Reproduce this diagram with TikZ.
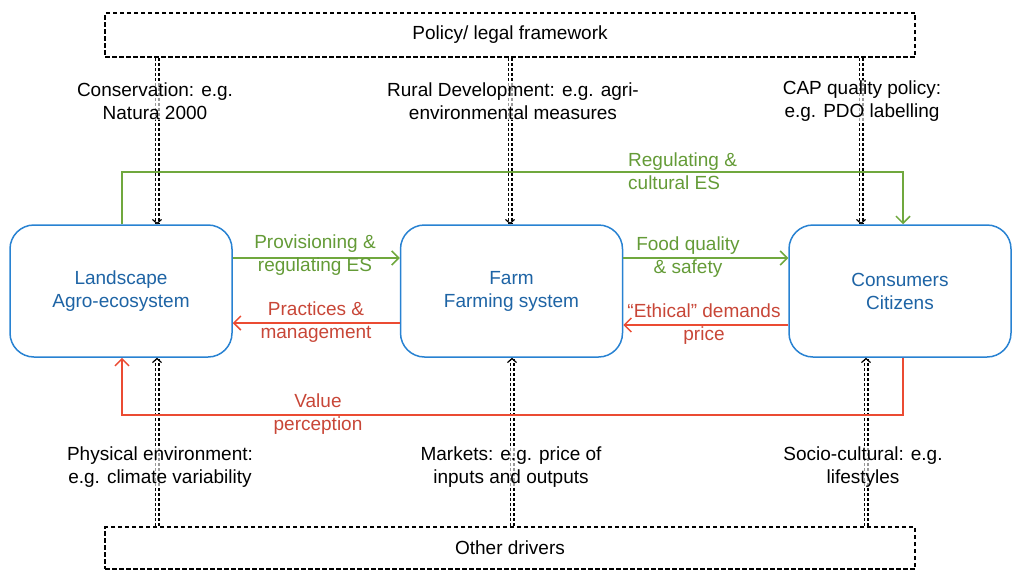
\documentclass[tikz,border=0pt]{standalone}
\usepackage{fontspec}
\setmainfont{Liberation Sans}
\usetikzlibrary{arrows.meta}
\definecolor{boxblue}{RGB}{40,130,210}
\definecolor{txtblue}{RGB}{30,100,165}
\definecolor{lgreen}{RGB}{112,168,62}
\definecolor{tgreen}{RGB}{100,155,55}
\definecolor{lred}{RGB}{235,75,50}
\definecolor{tred}{RGB}{200,70,55}
\tikzset{
  every node/.style={font=\fontsize{19}{23}\selectfont},
  mainbox/.style={draw=boxblue, line width=1.5pt, rounded corners=24pt, minimum width=222pt, minimum height=132pt, text=txtblue, align=center, fill=white},
  dashbox/.style={draw=black, line width=1.6pt, dash pattern=on 4.5pt off 2.5pt, minimum width=810pt, align=center},
  dbl/.style={draw=black, line width=1.2pt, double=white, double distance=2.6pt, dash pattern=on 3.5pt off 1.5pt, -{Straight Barb[length=4pt,width=9pt,line width=1.2pt]}},
  garrow/.style={draw=lgreen, line width=1.5pt, -{Straight Barb[length=7pt,width=14pt]}},
  rarrow/.style={draw=lred, line width=1.5pt, -{Straight Barb[length=7pt,width=14pt]}},
  lbl/.style={align=center, fill=white, fill opacity=0.6, text opacity=1, inner sep=1pt},
  glbl/.style={align=center, text=tgreen, inner sep=1pt},
  rlbl/.style={align=center, text=tred, inner sep=1pt},
}
\begin{document}
\begin{tikzpicture}[x=1pt,y=-1pt]
\useasboundingbox (0,0) rectangle (1014,570);
% dashed frame boxes
\node[dashbox, minimum height=44pt] (policy) at (510,35) {Policy/ legal framework};
\node[dashbox, minimum height=42pt] (other) at (510,548) {Other drivers};
% main boxes
\node[mainbox] (land) at (121,291) {Landscape\\Agro-ecosystem};
\node[mainbox] (farm) at (511.5,291) {Farm\\Farming system};
\node[mainbox] (cons) at (900,291) {Consumers\\Citizens};
% coordinates
\coordinate (g1) at (122,172);
\coordinate (g2) at (903,172);
\coordinate (r1) at (903,415);
\coordinate (r2) at (122,415);
% double dashed driver arrows
\draw[dbl] (policy.south -| 157,0) -- (land.north -| 157,0);
\draw[dbl] (policy.south -| 510,0) -- (farm.north -| 510,0);
\draw[dbl] (policy.south -| 861,0) -- (cons.north -| 861,0);
\draw[dbl] (other.north -| 157,0) -- (land.south -| 157,0);
\draw[dbl] (other.north -| 512,0) -- (farm.south -| 512,0);
\draw[dbl] (other.north -| 866,0) -- (cons.south -| 866,0);
% long loops
\draw[garrow] (land.north -| g1) -- (g1) -- (g2) -- (cons.north -| g2);
\draw[rarrow] (cons.south -| r1) -- (r1) -- (r2) -- (land.south -| r2);
% horizontal arrows
\draw[garrow] (land.east |- 0,258) -- (farm.west |- 0,258);
\draw[garrow] (farm.east |- 0,258) -- (cons.west |- 0,258);
\draw[rarrow] (farm.west |- 0,323) -- (land.east |- 0,323);
\draw[rarrow] (cons.west |- 0,325) -- (farm.east |- 0,325);
% labels
\node[lbl] (l1) at (155,101) {Conservation: e.g.\\Natura 2000};
\node[lbl] (l2) at (513,101) {Rural Development: e.g. agri-\\environmental measures};
\node[lbl] (l3) at (862,101) {CAP quality policy:\\e.g. PDO labelling};
\node[lbl] (l4) at (160,467) {Physical environment:\\e.g. climate variability};
\node[lbl] (l5) at (511,467) {Markets: e.g. price of\\inputs and outputs};
\node[lbl] (l6) at (863,467) {Socio-cultural: e.g.\\lifestyles};
\node[glbl, align=left, anchor=west] (t1) at (627,171) {Regulating \&\\cultural ES};
\node[glbl] (t2) at (315,255) {Provisioning \&\\regulating ES};
\node[glbl] (t3) at (688,257) {Food quality\\\& safety};
\node[rlbl] (t4) at (316,322) {Practices \&\\management};
\node[rlbl] (t5) at (704,324) {``Ethical'' demands\\price};
\node[rlbl] (t6) at (318,414) {Value\\perception};
\end{tikzpicture}
\end{document}
